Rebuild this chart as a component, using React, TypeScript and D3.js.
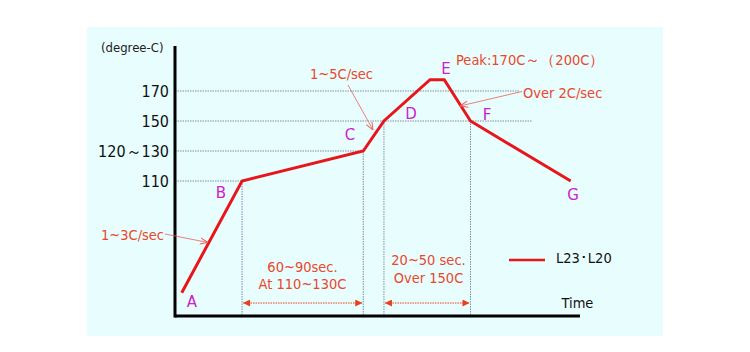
import React from "react";
import * as d3 from "d3";

// Reflow profile points (time in arbitrary sec units, temperature in degree-C)
const pointLabels = ["A", "B", "C", "D", "E", "E2", "F", "G"];
const times = [4.5, 44.7, 125.5, 139.3, 170, 179.5, 197, 263.8];
const temps = [35.5, 110, 130, 150, 177.5, 177.5, 150, 110];

const yTickValues = [110, 130, 150, 170];
const yTickLabels = ["110", "120～130", "150", "170"];

const W = 750;
const H = 352;

export default function App() {
  const x = d3.scaleLinear().domain([0, 270]).range([175, 580]);
  const y = d3.scaleLinear().domain([20, 200]).range([316, 46]);

  const pts = times.map((t, i) => ({ t, v: temps[i], label: pointLabels[i] }));
  const line = d3
    .line<{ t: number; v: number }>()
    .x((d) => x(d.t))
    .y((d) => y(d.v));

  const P = (lbl: string) => pts.find((p) => p.label === lbl)!;
  const B = P("B"), C = P("C"), D = P("D"), F = P("F");

  const red = "#e8161b";
  const textRed = "#e8482c";
  const magenta = "#cc22cc";
  const gridCol = "#7f8fa8";
  const font = "'DejaVu Sans', Verdana, sans-serif";
  const cfont = "'DejaVu Sans Condensed', 'DejaVu Sans', sans-serif";
  const baseAxisY = y(20);

  const hGrid = [
    { v: 110, x2: x(B.t) },
    { v: 130, x2: x(C.t) },
    { v: 150, x2: 532 },
    { v: 170, x2: 520 },
  ];
  const vGrid = [
    { t: B.t, v: B.v },
    { t: C.t, v: C.v },
    { t: D.t, v: D.v },
    { t: F.t, v: F.v },
  ];

  const arrowY = 303;

  return (
    <svg width={W} height={H} style={{ position: "absolute", left: 0, top: 0 }}>
      <defs>
        <marker id="fillArrow" viewBox="0 0 10 10" refX="10" refY="5" markerWidth="8" markerHeight="7" markerUnits="userSpaceOnUse" orient="auto-start-reverse">
          <path d="M0,0 L10,5 L0,10 Z" fill="#e8401c" />
        </marker>
        <marker id="openArrow" viewBox="0 0 10 10" refX="10" refY="5" markerWidth="8" markerHeight="8" markerUnits="userSpaceOnUse" orient="auto">
          <path d="M0,1 L10,5 L0,9" fill="none" stroke="#e8605a" strokeWidth="1.2" />
        </marker>
      </defs>
      <rect x={87} y={27} width={576} height={309} fill="#e8fdfd" />

      {hGrid.map((g) => (
        <line key={"h" + g.v} x1={x(0)} x2={g.x2} y1={y(g.v)} y2={y(g.v)} stroke={gridCol} strokeWidth={1} strokeDasharray="1.5,1" />
      ))}
      {vGrid.map((g, i) => (
        <line key={"v" + i} x1={x(g.t)} x2={x(g.t)} y1={y(g.v)} y2={318} stroke={gridCol} strokeWidth={1} strokeDasharray="1.5,1" />
      ))}

      <line x1={x(0)} x2={x(0)} y1={y(200)} y2={baseAxisY + 1.5} stroke="#000" strokeWidth={3} />
      <line x1={x(0)} x2={x(270)} y1={baseAxisY} y2={baseAxisY} stroke="#000" strokeWidth={3} />

      {yTickValues.map((v, i) => (
        <text key={"yt" + v} x={169} y={y(v)} dy="0.36em" textAnchor="end" fontFamily={cfont} fontSize={16} fill="#111">
          {yTickLabels[i]}
        </text>
      ))}
      <text x={101} y={52} fontFamily={cfont} fontSize={13} fill="#222">(degree-C)</text>

      <line x1={x(B.t) + 1} x2={x(C.t) - 1} y1={arrowY} y2={arrowY} stroke="#e8401c" strokeWidth={1} strokeDasharray="1.5,1" markerStart="url(#fillArrow)" markerEnd="url(#fillArrow)" />
      <line x1={x(D.t) + 1} x2={x(F.t) - 1} y1={arrowY} y2={arrowY} stroke="#e8401c" strokeWidth={1} strokeDasharray="1.5,1" markerStart="url(#fillArrow)" markerEnd="url(#fillArrow)" />

      <path d={line(pts) || ""} fill="none" stroke={red} strokeWidth={3} strokeLinejoin="miter" />

      {[
        { p: "A", x: 192, y: 302 },
        { p: "B", x: 221, y: 193 },
        { p: "C", x: 350, y: 135 },
        { p: "D", x: 411, y: 114 },
        { p: "E", x: 446, y: 69 },
        { p: "F", x: 487, y: 115 },
        { p: "G", x: 573, y: 195 },
      ].map((l) => (
        <text key={l.p} x={l.x} y={l.y} dy="0.36em" textAnchor="middle" fontFamily={font} fontSize={15} fill={magenta}>
          {l.p}
        </text>
      ))}

      <text x={310} y={79} fontFamily={cfont} fontSize={14.5} fill={textRed}>1~5C/sec</text>
      <line x1={348} y1={85} x2={373} y2={130} stroke="#e8605a" strokeWidth={0.8} markerEnd="url(#openArrow)" />

      <text x={101} y={240} fontFamily={cfont} fontSize={14.5} fill={textRed}>1~3C/sec</text>
      <line x1={165} y1={234} x2={208} y2={242.5} stroke="#e8605a" strokeWidth={0.8} markerEnd="url(#openArrow)" />

      <text x={456} y={65} fontFamily={cfont} fontSize={14.5} fill={textRed}>Peak:170C～（200C）</text>

      <text x={523} y={98} fontFamily={cfont} fontSize={14.5} fill={textRed}>Over 2C/sec</text>
      <line x1={522} y1={91.5} x2={460} y2={106} stroke="#e8605a" strokeWidth={0.8} markerEnd="url(#openArrow)" />

      <text x={302.5} y={267} dy="0.36em" textAnchor="middle" fontFamily={cfont} fontSize={14.5} fill={textRed}>60~90sec.</text>
      <text x={302.5} y={284} dy="0.36em" textAnchor="middle" fontFamily={cfont} fontSize={14.5} fill={textRed}>At 110~130C</text>
      <text x={428.5} y={260} dy="0.36em" textAnchor="middle" fontFamily={cfont} fontSize={14.5} fill={textRed}>20~50 sec.</text>
      <text x={428.5} y={278} dy="0.36em" textAnchor="middle" fontFamily={cfont} fontSize={14.5} fill={textRed}>Over 150C</text>

      <line x1={509} x2={545} y1={260} y2={260} stroke={red} strokeWidth={2.5} />
      <text x={556} y={258} dy="0.36em" fontFamily={cfont} fontSize={14.5} fill="#111">L23･L20</text>

      <text x={561.5} y={303} dy="0.36em" fontFamily={cfont} fontSize={14.5} fill="#111">Time</text>
    </svg>
  );
}
